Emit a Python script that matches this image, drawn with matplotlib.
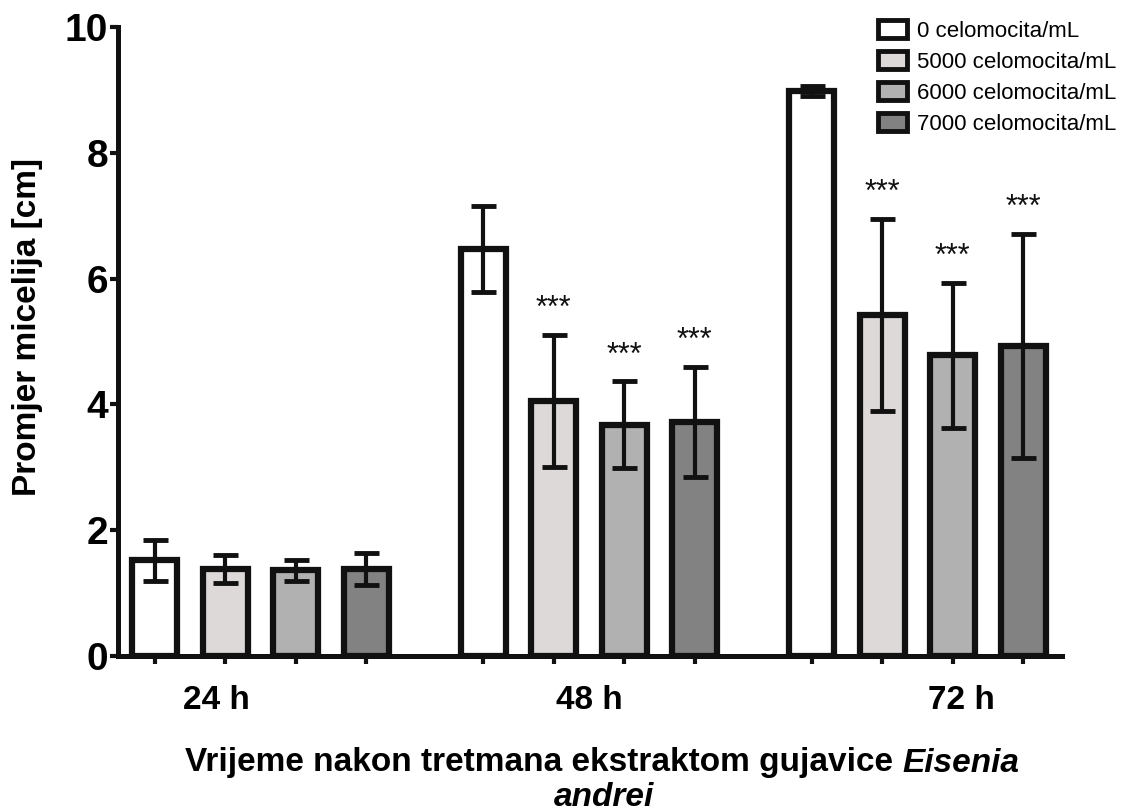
import matplotlib.pyplot as plt
import numpy as np

plt.rcParams['font.family'] = ['Liberation Sans', 'DejaVu Sans']

groups = ['24 h', '48 h', '72 h']
series = ['0 celomocita/mL', '5000 celomocita/mL', '6000 celomocita/mL', '7000 celomocita/mL']
colors = ['#ffffff', '#dcd9d8', '#b1b1b1', '#828282']
means = [[1.52, 1.38, 1.36, 1.38],
         [6.47, 4.06, 3.68, 3.72],
         [8.98, 5.42, 4.78, 4.93]]
errs = [[0.33, 0.22, 0.17, 0.25],
        [0.68, 1.05, 0.69, 0.88],
        [0.08, 1.53, 1.15, 1.78]]
stars = [['', '', '', ''],
         ['', '***', '***', '***'],
         ['', '***', '***', '***']]
group_start = [0, 4.66, 9.32]
label_off = [0.87, 1.5, 2.13]

fig = plt.figure(figsize=(11.29, 8.11), dpi=100)
ax = fig.add_axes([118/1129, 1-656/811, (1062-118)/1129, (656-27)/811])

bar_w = 0.64
tick_x = []
for g in range(3):
    for i in range(4):
        x = group_start[g] + i
        tick_x.append(x)
        ax.bar(x, means[g][i], width=bar_w, color=colors[i], edgecolor='#111111',
               linewidth=4.5, zorder=2, label=series[i] if g == 0 else None)
        ax.errorbar(x, means[g][i], yerr=errs[g][i], fmt='none', ecolor='#111111',
                    elinewidth=3, capsize=9, capthick=3.5, zorder=3)
        if stars[g][i]:
            ax.text(x, means[g][i] + errs[g][i] + 0.28, stars[g][i], ha='center',
                    va='baseline', fontsize=22, color='#111111')

ax.set_xlim(-0.52, 12.87)
ax.set_ylim(0, 10)
ax.spines['top'].set_visible(False)
ax.spines['right'].set_visible(False)
ax.spines['left'].set_linewidth(3.6)
ax.spines['bottom'].set_linewidth(3.6)
ax.spines['left'].set_color('#111111')
ax.spines['bottom'].set_color('#111111')

ax.set_yticks([0, 2, 4, 6, 8, 10])
ax.tick_params(axis='y', length=6, width=3, pad=1, labelsize=28, color='#111111')
for t in ax.get_yticklabels():
    t.set_fontweight('bold')

ax.set_xticks(tick_x)
ax.set_xticklabels([])
ax.tick_params(axis='x', which='major', length=6, width=3, color='#111111')
ax.set_xticks([group_start[g] + label_off[g] for g in range(3)], minor=True)
ax.set_xticklabels(groups, minor=True, fontsize=24, fontweight='bold')
ax.tick_params(axis='x', which='minor', length=0, pad=21)

ax.set_ylabel('Promjer micelija [cm]', fontsize=24, fontweight='bold', va='center')
ax.yaxis.set_label_coords((28-118)/944, (656-327)/629)

leg = ax.legend(loc='upper left', bbox_to_anchor=(858/1129, 1-0/811),
                bbox_transform=fig.transFigure, frameon=False, fontsize=16,
                handlelength=1.3, handleheight=0.85, handletextpad=0.45, labelspacing=0.43)
for h in leg.legend_handles:
    h.set_linewidth(3.5)

# x label with italic species name
fs = 24
t1 = fig.text(0, 1-763/811, 'Vrijeme nakon tretmana ekstraktom gujavice', fontsize=fs,
              fontweight='bold', va='center', ha='left')
t2 = fig.text(0, 1-763/811, 'Eisenia', fontsize=fs, fontweight='bold', style='italic',
              va='center', ha='left')
fig.canvas.draw()
r = fig.canvas.get_renderer()
w1 = t1.get_window_extent(r).width
w2 = t2.get_window_extent(r).width
gap = 0.278 * fs * 100 / 72
x0 = 602 - (w1 + gap + w2) / 2
t1.set_x(x0 / 1129)
t2.set_x((x0 + w1 + gap) / 1129)
fig.text(604/1129, 1-797/811, 'andrei', fontsize=fs, fontweight='bold', style='italic',
         va='center', ha='center')

fig.savefig('out.png', dpi=100)
